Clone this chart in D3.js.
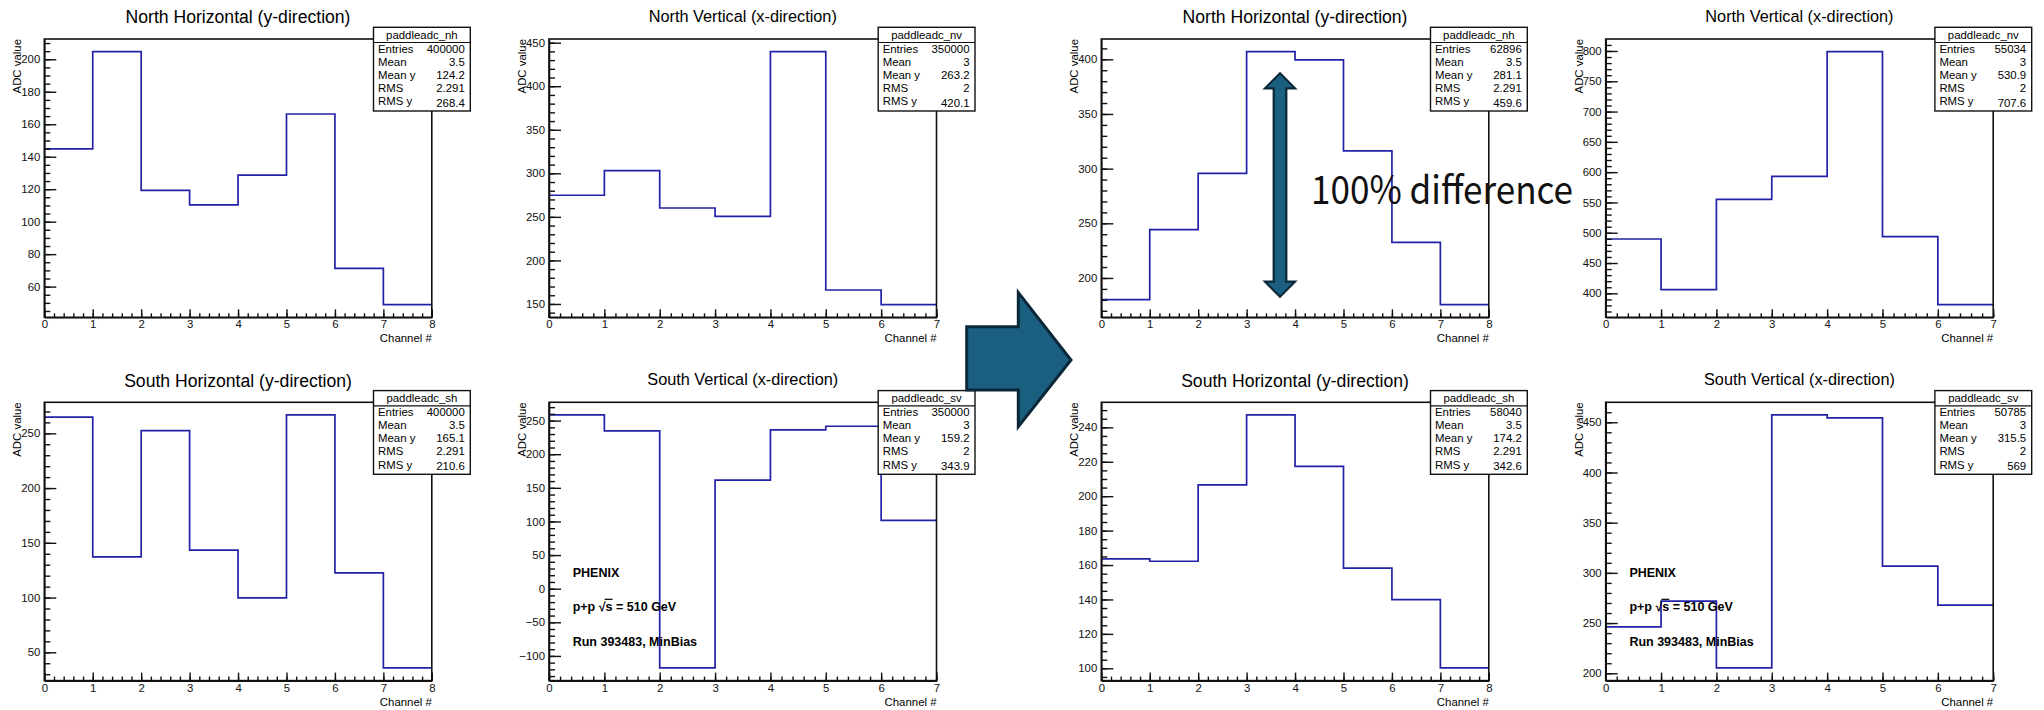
<!doctype html>
<html>
<head>
<meta charset="utf-8">
<script src="https://d3js.org/d3.v7.min.js"></script>
<style>
body { margin: 0; background: #fff; }
svg text { font-family: "Liberation Sans", Arial, Helvetica, sans-serif; }
</style>
</head>
<body>
<svg width="2044" height="710" id="chart"></svg>
<script>
// bin contents (ADC value per channel)
var nhBefore = [144.8, 204.7, 119.3, 110.3, 128.7, 166.3, 71.3, 48.9];
var nvBefore = [274.8, 303.0, 260.2, 250.6, 439.7, 166.0, 149.2];
var shBefore = [264.9, 137.2, 252.4, 143.3, 99.7, 266.8, 122.6, 35.7];
var svBefore = [258.4, 234.6, -117.9, 161.6, 236.1, 241.6, 101.5];
var nhAfter  = [180.2, 244.2, 295.7, 407.0, 399.4, 316.2, 232.6, 175.6];
var nvAfter  = [489.7, 406.1, 555.2, 593.1, 798.9, 493.5, 381.3];
var shAfter  = [163.6, 162.2, 206.6, 247.2, 217.3, 158.2, 139.9, 100.2];
var svAfter  = [246.2, 271.8, 205.3, 457.3, 454.3, 306.7, 267.8];

var titles = ["North Horizontal (y-direction)", "North Vertical (x-direction)",
              "South Horizontal (y-direction)", "South Vertical (x-direction)",
              "North Horizontal (y-direction)", "North Vertical (x-direction)",
              "South Horizontal (y-direction)", "South Vertical (x-direction)"];
var histNames = ["paddleadc_nh", "paddleadc_nv", "paddleadc_sh", "paddleadc_sv",
                 "paddleadc_nh", "paddleadc_nv", "paddleadc_sh", "paddleadc_sv"];

// stat box contents
var statLabels = ["Entries", "Mean", "Mean y", "RMS", "RMS y"];
var statEntries = ["400000", "350000", "400000", "350000", "62896", "55034", "58040", "50785"];
var statMean    = ["3.5", "3", "3.5", "3", "3.5", "3", "3.5", "3"];
var statMeanY   = ["124.2", "263.2", "165.1", "159.2", "281.1", "530.9", "174.2", "315.5"];
var statRMS     = ["2.291", "2", "2.291", "2", "2.291", "2", "2.291", "2"];
var statRMSY    = ["268.4", "420.1", "210.6", "343.9", "459.6", "707.6", "342.6", "569"];

// y axis tick steps
var yMajorStep = [20, 50, 50, 50, 50, 50, 20, 50];
var yMinorStep = [5, 10, 10, 10, 10, 10, 5, 10];

var labelLines = ["PHENIX", "p+p ", "Run 393483, MinBias"];

// layout
var colLeft = [44.3, 549, 1101.3, 1605.7],
    rowTop = [39, 402.3],
    frameW = 387.5,
    frameH = 278.3;
var panelCol = [0, 1, 0, 1, 2, 3, 2, 3],
    panelRow = [0, 0, 1, 1, 0, 0, 1, 1];
var allValues = [nhBefore, nvBefore, shBefore, svBefore, nhAfter, nvAfter, shAfter, svAfter];

var svg = d3.select("#chart");
var fmt = d3.format("d");

allValues.forEach(function(vals, i) {
    var fx = colLeft[panelCol[i]], fy = rowTop[panelRow[i]];
    var n = vals.length;
    // ROOT style range: 5% margin around min/max
    var lo = d3.min(vals), hi = d3.max(vals), m = 0.05 * (hi - lo);
    var x = d3.scaleLinear().domain([0, n]).range([fx, fx + frameW]);
    var y = d3.scaleLinear().domain([lo - m, hi + m]).range([fy + frameH, fy]);
    var g = svg.append("g");

    // title
    var horiz = titles[i].indexOf("Horizontal") >= 0;
    g.append("text")
        .attr("x", fx + frameW / 2)
        .attr("y", fy - (horiz ? 15.7 : 17.5))
        .attr("text-anchor", "middle")
        .style("font-size", horiz ? "17.6px" : "16.3px")
        .text(titles[i]);

    // histogram outline
    var pts = vals.map(function(v, k) { return [k, v]; });
    pts.push([n, vals[n - 1]]);
    var line = d3.line()
        .x(function(d) { return x(d[0]); })
        .y(function(d) { return y(d[1]); })
        .curve(d3.curveStepAfter);
    g.append("path")
        .datum(pts)
        .attr("d", line)
        .style("fill", "none")
        .style("stroke", "#2222a8")
        .style("stroke-width", 1.7);

    // frame
    g.append("rect")
        .attr("x", fx).attr("y", fy)
        .attr("width", frameW).attr("height", frameH)
        .style("fill", "none")
        .style("stroke", "#111")
        .style("stroke-width", 1.6);

    // y axis
    var d0 = y.domain()[0], d1 = y.domain()[1];
    var st = yMajorStep[i], ms = yMinorStep[i];
    var major = d3.range(Math.ceil(d0 / st) * st, d1 + 1e-9, st);
    var minor = d3.range(Math.ceil(d0 / ms) * ms, d1 + 1e-9, ms);
    g.append("g")
        .attr("transform", "translate(" + fx + ",0)")
        .call(d3.axisLeft(y).tickValues(minor).tickSize(-6).tickSizeOuter(0).tickFormat(""))
        .call(function(a) { a.select(".domain").remove(); });
    var ya = g.append("g")
        .attr("transform", "translate(" + fx + ",0)")
        .call(d3.axisLeft(y).tickValues(major).tickSize(-12).tickSizeOuter(0).tickPadding(4).tickFormat(fmt));
    ya.attr("font-family", null).attr("font-size", null);
    ya.selectAll("text").style("font-size", "11.4px").attr("fill", "#111");

    // x axis
    var xa = g.append("g")
        .attr("transform", "translate(0," + (fy + frameH) + ")")
        .call(d3.axisBottom(x).tickValues(d3.range(0, n + 1e-9, 0.2)).tickSize(-4).tickSizeOuter(0).tickFormat(""))
        .call(function(a) { a.select(".domain").remove(); });
    var xb = g.append("g")
        .attr("transform", "translate(0," + (fy + frameH) + ")")
        .call(d3.axisBottom(x).tickValues(d3.range(0, n + 1)).tickSize(-8).tickSizeOuter(0).tickPadding(3).tickFormat(fmt));
    xb.attr("font-family", null).attr("font-size", null);
    xb.selectAll("text").style("font-size", "11.4px").attr("fill", "#111");
    g.selectAll(".tick line").attr("stroke", "#111").attr("stroke-width", 1.4);
    g.selectAll(".domain").attr("stroke", "#111").attr("stroke-width", 1.6);

    // axis titles
    g.append("text")
        .attr("transform", "translate(" + (fx - 23) + "," + fy + ")rotate(-90)")
        .attr("text-anchor", "end")
        .style("font-size", "11.4px")
        .text("ADC value");
    g.append("text")
        .attr("x", fx + frameW)
        .attr("y", fy + frameH + 25)
        .attr("text-anchor", "end")
        .style("font-size", "11.4px")
        .text("Channel #");

    // stat box
    var bx = fx + frameW - 58.3, bw = 96.8, by = fy - 11.7, bh = 83.7;
    var sb = g.append("g");
    sb.append("rect")
        .attr("x", bx).attr("y", by).attr("width", bw).attr("height", bh)
        .style("fill", "#fff").style("stroke", "#111").style("stroke-width", 1.4);
    sb.append("line")
        .attr("x1", bx).attr("x2", bx + bw)
        .attr("y1", fy + 3.5).attr("y2", fy + 3.5)
        .style("stroke", "#111").style("stroke-width", 1.2);
    sb.append("text")
        .attr("x", bx + bw / 2).attr("y", fy - 0.5)
        .attr("text-anchor", "middle")
        .style("font-size", "11.4px")
        .text(histNames[i]);
    var statVals = [statEntries[i], statMean[i], statMeanY[i], statRMS[i], statRMSY[i]];
    statLabels.forEach(function(lab, k) {
        var yy = fy + 13.8 + 13.1 * k;
        sb.append("text").attr("x", bx + 4.5).attr("y", yy)
            .style("font-size", "11.4px").text(lab);
        sb.append("text").attr("x", bx + bw - 5.5).attr("y", yy + (k == 4 ? 1.5 : 0))
            .attr("text-anchor", "end")
            .style("font-size", "11.4px").text(statVals[k]);
    });

    // PHENIX label on the South Vertical panels
    if (i == 3 || i == 7) {
        var lx = fx + 23.7;
        g.append("text").attr("x", lx).attr("y", fy + 175)
            .style("font-size", "12.5px").style("font-weight", "bold").text(labelLines[0]);
        var t = g.append("text").attr("x", lx).attr("y", fy + 208.7)
            .style("font-size", "12.5px").style("font-weight", "bold");
        t.append("tspan").text(labelLines[1]);
        t.append("tspan").text("\u221A");
        t.append("tspan").text("s");
        t.append("tspan").text(" = 510 GeV");
        var node = t.node();
        var idx = labelLines[1].length;
        var r = node.getExtentOfChar(idx), s = node.getExtentOfChar(idx + 1);
        g.append("line")
            .attr("x1", r.x + r.width - 1).attr("x2", s.x + s.width)
            .attr("y1", fy + 197).attr("y2", fy + 197)
            .style("stroke", "#000").style("stroke-width", 1.2);
        g.append("text").attr("x", lx).attr("y", fy + 243.7)
            .style("font-size", "12.5px").style("font-weight", "bold").text(labelLines[2]);
    }
});

// big "before -> after" arrow
svg.append("polygon")
    .attr("points", "966.7,326.7 1018.3,326.7 1018.3,292.7 1071,360 1018.3,426.7 1018.3,390 966.7,390")
    .style("fill", "#1a5e80")
    .style("stroke", "#0b2838")
    .style("stroke-width", 3)
    .style("stroke-linejoin", "miter");

// double arrow + annotation on the North Horizontal (after) panel
svg.append("polygon")
    .attr("points", "1280,73.3 1295,88.3 1286.3,88.3 1286.3,281.7 1295,281.7 1280,296.7 1265,281.7 1273.7,281.7 1273.7,88.3 1265,88.3")
    .style("fill", "#1a5e80")
    .style("stroke", "#0b2838")
    .style("stroke-width", 2.2);

svg.append("text")
    .attr("x", 1311)
    .attr("y", 204)
    .attr("textLength", 262)
    .attr("lengthAdjust", "spacingAndGlyphs")
    .style("font-family", "'Noto Sans CJK JP', 'Noto Sans', sans-serif")
    .style("font-size", "39px")
    .style("fill", "#111")
    .text("100% difference");
</script>
</body>
</html>
